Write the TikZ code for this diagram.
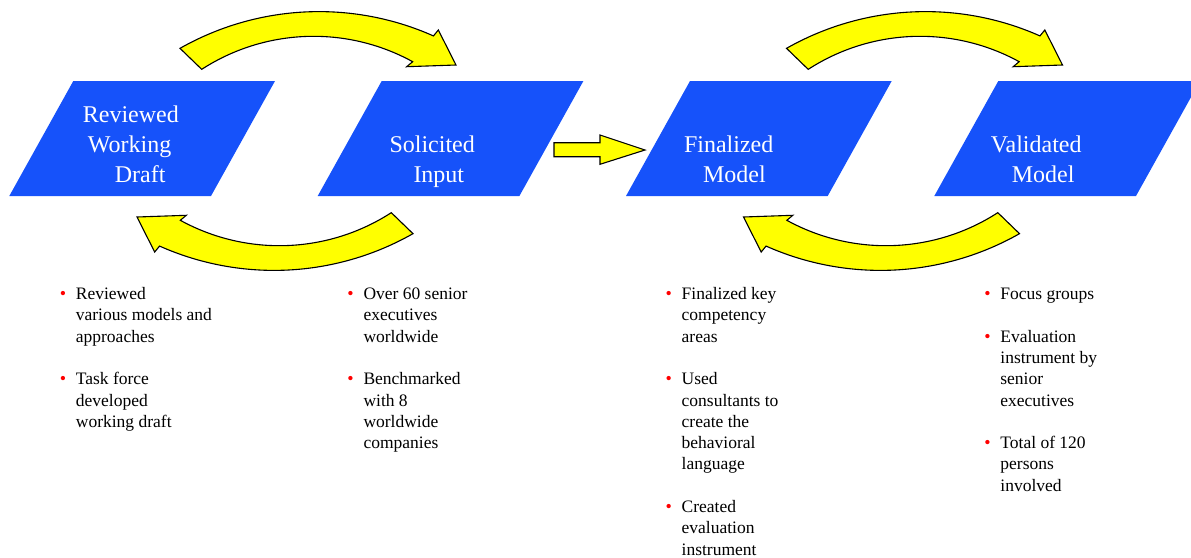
\documentclass[tikz,border=0pt]{standalone}
\usepackage{fontspec}
\setmainfont{Liberation Serif}
\usetikzlibrary{calc}
\definecolor{boxblue}{RGB}{22,82,250}
\definecolor{arrowyellow}{RGB}{255,255,0}
\newcommand{\bul}{\llap{\textcolor{red}{\fontsize{18}{18}\selectfont\textbullet}\hspace{9.8pt}}}
% parallelogram, #1 = x of lower left corner
\newcommand{\stagebox}[1]{
    \fill[boxblue] (#1+64,81) -- (#1+265.7,81)
        -- (#1+201.7,196)
        -- (#1,196)
        -- cycle;
}
% curved block arrow, left to right over the gap
\newcommand{\looppath}{
    ($(319,293)+(-119.6:281.4)$) arc[start angle=-119.6, end angle=-66, radius=281.4]
        -- (438.3,30) -- (456,65) -- (406.7,66.7)
        -- ($(313.6,242.3)+(-61.25:206)$) arc[start angle=-61.25, end angle=-122.9, radius=206]
        -- cycle
}
\newcommand{\looparrows}[1]{
    \begin{scope}[xshift=#1]
        \draw[yarrow] \looppath;
        \begin{scope}[rotate around={180:(296.5,141)}]
            \draw[yarrow] \looppath;
        \end{scope}
    \end{scope}
}

\begin{document}
\begin{tikzpicture}[x=1pt, y=-1pt,
        yarrow/.style={fill=arrowyellow, draw=black, line width=1.1pt, line join=miter},
        boxtext/.style={anchor=base west, inner sep=0pt, text=white,
            font=\fontsize{24}{30}\selectfont},
        bullettext/.style={anchor=base west, inner sep=0pt,
            font=\fontsize{17.5}{21.3}\selectfont}]
    \useasboundingbox (0,0) rectangle (1191,557);
    \clip (0,0) rectangle (1191,557);

    \foreach \x in {9.3, 317.7, 626, 934.3} {
        \stagebox{\x}
    }

    \looparrows{0}
    \looparrows{606.5}

    \draw[yarrow] (554,142.7) -- (600,142.7) -- (600,135)
        -- (645,150)
        -- (600,164.3) -- (600,156.7) -- (554,156.7) -- cycle;

    \node[boxtext] (draft) at (82.7,122.5) {\begin{tabular}[t]{@{}l@{}}
        Reviewed\\ \hspace{5pt}Working\\ \hspace{32pt}Draft\end{tabular}};
    \node[boxtext] (input) at (389.3,152.5) {\begin{tabular}[t]{@{}l@{}}
        Solicited\\ \hspace{24pt}Input\end{tabular}};
    \node[boxtext] (final) at (683.8,152.5) {\begin{tabular}[t]{@{}l@{}}
        Finalized\\ \hspace{19pt}Model\end{tabular}};
    \node[boxtext] (valid) at (990.7,152.5) {\begin{tabular}[t]{@{}l@{}}
        Validated\\ \hspace{21pt}Model\end{tabular}};

    \node[bullettext] (draftnotes) at (75.7,299.5) {\begin{tabular}[t]{@{}l@{}}
        \bul Reviewed\\ various models and\\ approaches\\ \\
        \bul Task force\\ developed\\ working draft\end{tabular}};
    \node[bullettext] (inputnotes) at (363.3,299.5) {\begin{tabular}[t]{@{}l@{}}
        \bul Over 60 senior\\ executives\\ worldwide\\ \\
        \bul Benchmarked\\ with 8\\ worldwide\\ companies\end{tabular}};
    \node[bullettext] (finalnotes) at (681.5,299.5) {\begin{tabular}[t]{@{}l@{}}
        \bul Finalized key\\ competency\\ areas\\ \\
        \bul Used\\ consultants to\\ create the\\ behavioral\\ language\\ \\
        \bul Created\\ evaluation\\ instrument\end{tabular}};
    \node[bullettext] (validnotes) at (1000.2,299.5) {\begin{tabular}[t]{@{}l@{}}
        \bul Focus groups\\ \\
        \bul Evaluation\\ instrument by\\ senior\\ executives\\ \\
        \bul Total of 120\\ persons\\ involved\end{tabular}};
\end{tikzpicture}
\end{document}
